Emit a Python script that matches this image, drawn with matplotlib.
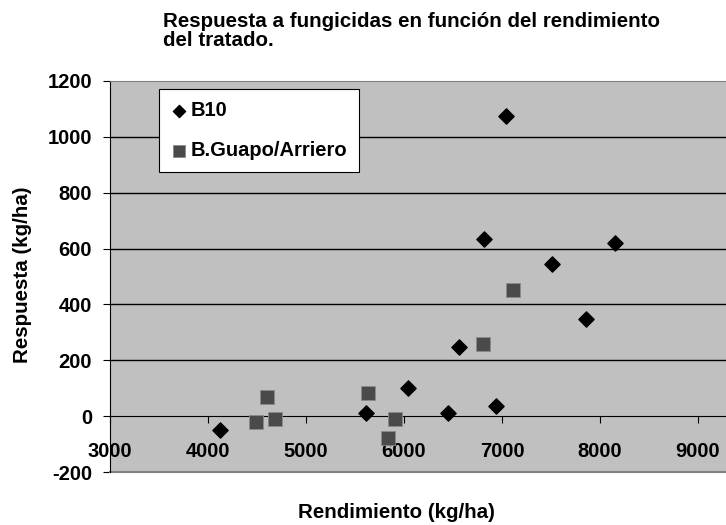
import numpy as np
import matplotlib.pyplot as plt

plt.rcParams['font.family'] = ['Liberation Sans', 'DejaVu Sans']
plt.rcParams['font.weight'] = 'bold'
plt.rcParams['axes.unicode_minus'] = False

# B10
b10_x = [4120, 5610, 6040, 6450, 6940, 6560, 7510, 7860, 7040, 6815, 8150]
b10_y = [-50, 10, 102, 10, 37, 249, 546, 349, 1075, 635, 621]
# B.Guapo/Arriero
bg_x = [7115, 6810, 4600, 4490, 4685, 5635, 5910, 5840]
bg_y = [452, 260, 68, -20, -10, 82, -10, -80]

W, H = 726, 525
fig = plt.figure(figsize=(W/100, H/100), dpi=100)
# plot area runs past the right edge of the picture
ax = fig.add_axes([110/W, 1-472/H, 660/W, (472-81)/H])
ax.set_facecolor('#c0c0c0')

ax.set_xlim(3000, 3000 + 660/98*1000)
ax.set_ylim(-200, 1200)
ax.set_yticks(range(-200, 1201, 200))
ax.set_xticks(range(3000, 9001, 1000))

for v in range(200, 1200, 200):
    ax.axhline(v, color='black', lw=1, zorder=1)

ax.scatter(b10_x, b10_y, marker='D', s=60, color='black', zorder=3, label='B10')
ax.scatter(bg_x, bg_y, marker='s', s=115, color='#4a4a4a', edgecolors='#8a8a8a',
           linewidths=0.6, zorder=3, label='B.Guapo/Arriero')

ax.spines['bottom'].set_position(('data', 0))
ax.spines['bottom'].set_color('black')
ax.spines['left'].set_color('black')
ax.spines['top'].set_color('#808080')
ax.spines['right'].set_visible(False)
ax.tick_params(axis='x', direction='out', length=5, labelsize=14.5, pad=13.5)
ax.tick_params(axis='y', direction='out', length=5, labelsize=14.5, pad=8)
# gray line at the bottom of the plot area
ax.axhline(-200, color='#808080', lw=1.5, clip_on=False, zorder=2)

fig.text(163/W, 1-12/H, 'Respuesta a fungicidas en función del rendimiento\ndel tratado.',
         fontsize=14.8, fontweight='bold', ha='left', va='top', linespacing=0.98)
fig.text(23/W, 1-275/H, 'Respuesta (kg/ha)', rotation=90, fontsize=14.8,
         fontweight='bold', ha='center', va='center')
fig.text(298/W, 1-513/H, 'Rendimiento (kg/ha)', fontsize=14.8,
         fontweight='bold', ha='left', va='center')

leg = ax.legend(loc='upper left', bbox_to_anchor=(49/660, 1-8/391), borderaxespad=0,
                frameon=True, fancybox=False, edgecolor='black', framealpha=1,
                fontsize=14.5, handletextpad=0.15, handlelength=0.8, borderpad=0.6,
                labelspacing=1.05, markerscale=0.8)
leg.get_frame().set_linewidth(0.8)

plt.savefig('out.png', dpi=100)
